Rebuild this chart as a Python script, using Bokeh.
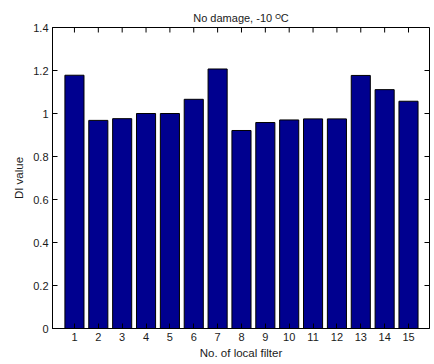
from bokeh.plotting import figure
from bokeh.models import Range1d, FixedTicker
from bokeh.embed import file_html
from bokeh.resources import INLINE

# DI value for each local filter at -10 degC, no damage
filters = [1, 2, 3, 4, 5, 6, 7, 8, 9, 10, 11, 12, 13, 14, 15]
di_values = [1.178, 0.968, 0.976, 1.000, 1.000, 1.066, 1.207, 0.921, 0.958,
             0.970, 0.975, 0.975, 1.177, 1.111, 1.057]

y_ticks = [0, 0.2, 0.4, 0.6, 0.8, 1.0, 1.2, 1.4]
y_tick_labels = ["0", "0.2", "0.4", "0.6", "0.8", "1", "1.2", "1.4"]

FONT = "Liberation Sans"
TXT = "#1a1a1a"
BAR = "#00008F"
W, H = 434, 364
LEFT, RIGHT, TOP, BOTTOM = 52, 5, 27, 36
TICK = 5  # tick length in pixels
X_START, X_END = 0.08, 15.88
Y_START, Y_END = y_ticks[0], y_ticks[-1]

p = figure(width=W, height=H, output_backend="svg", toolbar_location=None,
           x_range=Range1d(X_START, X_END), y_range=Range1d(Y_START, Y_END),
           min_border_left=LEFT, min_border_right=RIGHT,
           min_border_top=TOP, min_border_bottom=BOTTOM,
           title="No damage, -10 \u1d3cC")
p.grid.visible = False
p.outline_line_color = "black"
p.outline_line_width = 1
p.background_fill_color = "white"
p.border_fill_color = "white"

p.title.align = "center"
p.title.text_font = FONT
p.title.text_font_size = "11px"
p.title.text_font_style = "normal"
p.title.text_color = TXT
p.title.standoff = 7

p.vbar(x=filters, top=di_values, width=0.8, fill_color=BAR,
       line_color="black", line_width=1)

# inward ticks along the top and right edges of the box
dy = TICK * (Y_END - Y_START) / (H - TOP - BOTTOM)
dx = TICK * (X_END - X_START) / (W - LEFT - RIGHT)
p.segment(x0=filters, y0=[Y_END] * len(filters),
          x1=filters, y1=[Y_END - dy] * len(filters),
          line_color="black", line_width=1)
p.segment(x0=[X_END] * len(y_ticks), y0=y_ticks,
          x1=[X_END - dx] * len(y_ticks), y1=y_ticks,
          line_color="black", line_width=1)


def style_axis(ax):
    ax.axis_line_color = "black"
    ax.major_tick_line_color = "black"
    ax.major_tick_in = TICK
    ax.major_tick_out = 0
    ax.minor_tick_line_color = None
    ax.major_label_text_font = FONT
    ax.major_label_text_color = TXT
    ax.axis_label_text_font = FONT
    ax.axis_label_text_color = TXT
    ax.axis_label_text_font_style = "normal"


xa = p.xaxis[0]
style_axis(xa)
xa.ticker = FixedTicker(ticks=filters)
xa.major_label_text_font_size = "11px"
xa.major_label_standoff = 4
xa.axis_label = "No. of local filter"
xa.axis_label_text_font_size = "11.5px"
xa.axis_label_standoff = 3

ya = p.yaxis[0]
style_axis(ya)
ya.ticker = FixedTicker(ticks=y_ticks)
ya.major_label_overrides = {t: s for t, s in zip(y_ticks, y_tick_labels)}
ya.major_label_text_font_size = "11px"
ya.major_label_standoff = 4
ya.axis_label = "DI value"
ya.axis_label_text_font_size = "11.5px"
ya.axis_label_standoff = 5

open("out.html", "w").write(file_html(p, INLINE))
